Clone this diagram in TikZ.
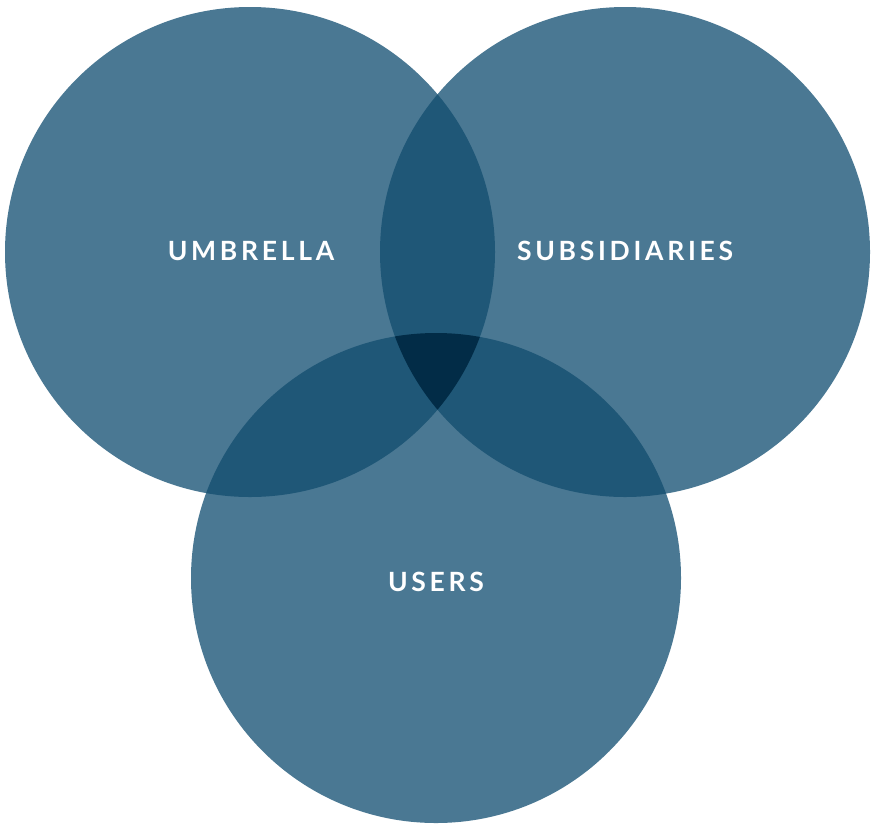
\documentclass[tikz,border=0pt]{standalone}
\usepackage{fontspec}
\setsansfont{Lato}[UprightFont=* Bold, LetterSpace=14]
\begin{document}
\begin{tikzpicture}[x=1pt,y=-1pt,
  lbl/.style={text=white,font=\sffamily\fontsize{26.5}{30}\selectfont,inner sep=0pt}]
\definecolor{oneset}{HTML}{4A7893}
\definecolor{twosets}{HTML}{1F5777}
\definecolor{threesets}{HTML}{022C47}
\useasboundingbox (0,0) rectangle (872,825);
\def\rr{245}
\coordinate (cl) at (250,252);
\coordinate (cr) at (625,252);
\coordinate (cb) at (436,578);
% the three circles
\fill[oneset] (cl) circle (\rr);
\fill[oneset] (cr) circle (\rr);
\fill[oneset] (cb) circle (\rr);
% pairwise overlaps
\begin{scope}\clip (cl) circle (\rr); \fill[twosets] (cr) circle (\rr); \fill[twosets] (cb) circle (\rr);\end{scope}
\begin{scope}\clip (cr) circle (\rr); \fill[twosets] (cb) circle (\rr);\end{scope}
% area common to all three
\begin{scope}\clip (cl) circle (\rr); \clip (cr) circle (\rr); \fill[threesets] (cb) circle (\rr);\end{scope}
\node[lbl] (umbrella) at (251,251) {UMBRELLA};
\node[lbl] (subsidiaries) at (625,251) {SUBSIDIARIES};
\node[lbl] (users) at (436,582) {USERS};
\end{tikzpicture}
\end{document}
